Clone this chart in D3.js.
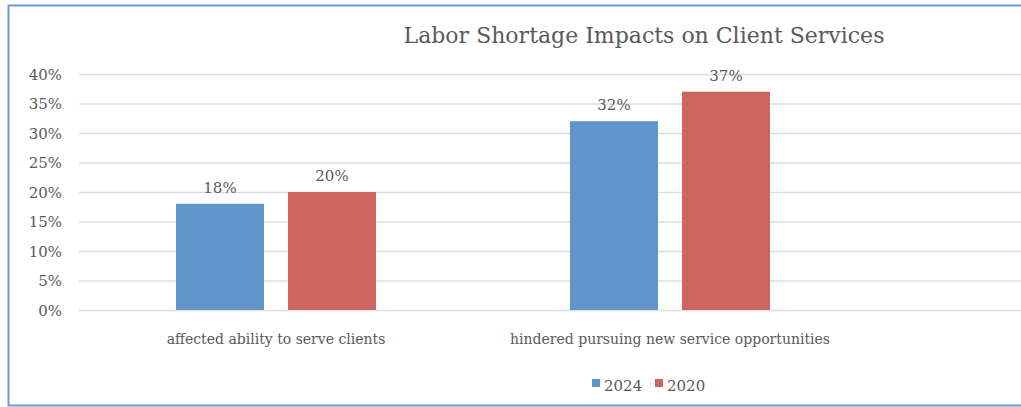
<!DOCTYPE html>
<html>
<head>
<meta charset="utf-8">
<script src="https://cdn.jsdelivr.net/npm/d3@7"></script>
<style>
  html, body { margin: 0; padding: 0; background: #fff; }
  svg { display: block; }
  text { font-family: "DejaVu Serif", "Liberation Serif", serif; fill: #595959; }
</style>
</head>
<body>
<svg id="chart" width="1021" height="407"></svg>
<script>
// Chart data
const title = "Labor Shortage Impacts on Client Services";
const categories = ["affected ability to serve clients", "hindered pursuing new service opportunities"];
const seriesNames = ["2024", "2020"];
const values2024 = [18, 32];
const values2020 = [20, 37];
const yTicks = [0, 5, 10, 15, 20, 25, 30, 35, 40];
const colors = ["#6095c9", "#cc655e"];

const svg = d3.select("#chart");
const W = 1021, H = 407;

// Outer frame
svg.append("rect")
  .attr("x", 8.5).attr("y", 5.5)
  .attr("width", W + 20).attr("height", 400)
  .attr("fill", "#fff")
  .attr("stroke", "#6b9bd2").attr("stroke-width", 2);

const plot = { left: 79, top: 74, bottom: 310 };
const step = 394;

const y = d3.scaleLinear().domain([0, 40]).range([plot.bottom, plot.top]);

const x0 = d3.scaleBand()
  .domain(categories)
  .range([plot.left, plot.left + step * categories.length])
  .paddingInner(0.4924)
  .paddingOuter(0.2462);

const x1 = d3.scaleBand()
  .domain(seriesNames)
  .range([0, x0.bandwidth()])
  .paddingInner(0.2143)
  .paddingOuter(0);

// Horizontal gridlines and percentage ticks
const yAxis = d3.axisLeft(y)
  .tickValues(yTicks)
  .tickSize(-(W - plot.left + 10))
  .tickPadding(17)
  .tickFormat(d => d + "%");

const gy = svg.append("g")
  .attr("transform", `translate(${plot.left},0)`)
  .call(yAxis);
gy.select(".domain").remove();
gy.selectAll(".tick line").attr("stroke", "#dedede").attr("stroke-width", 1.5);
gy.selectAll(".tick text")
  .attr("font-size", 15)
  .attr("font-family", "DejaVu Serif")
  .attr("fill", "#595959")
  .attr("dy", "0.36em");

// Bars
const rows = categories.map((c, i) => ({
  category: c,
  values: [
    { series: seriesNames[0], value: values2024[i] },
    { series: seriesNames[1], value: values2020[i] }
  ]
}));

const groups = svg.append("g").selectAll("g")
  .data(rows)
  .join("g")
  .attr("transform", d => `translate(${x0(d.category)},0)`);

groups.selectAll("rect")
  .data(d => d.values)
  .join("rect")
  .attr("x", d => x1(d.series))
  .attr("y", d => y(d.value))
  .attr("width", x1.bandwidth())
  .attr("height", d => y(0) - y(d.value))
  .attr("fill", (d, i) => colors[i]);

// Value labels
groups.selectAll("text.val")
  .data(d => d.values)
  .join("text")
  .attr("class", "val")
  .attr("x", d => x1(d.series) + x1.bandwidth() / 2)
  .attr("y", d => y(d.value) - 11)
  .attr("text-anchor", "middle")
  .attr("font-size", 15)
  .text(d => d.value + "%");

// Category labels
const xAxis = d3.axisBottom(x0).tickSize(0).tickPadding(0);
const gx = svg.append("g")
  .attr("transform", `translate(0,${plot.bottom})`)
  .call(xAxis);
gx.select(".domain").remove();
gx.selectAll(".tick text")
  .attr("font-size", 14)
  .attr("font-family", "DejaVu Serif")
  .attr("fill", "#595959")
  .attr("dy", 0)
  .attr("y", 34);

// Title
svg.append("text")
  .attr("x", 644).attr("y", 43)
  .attr("text-anchor", "middle")
  .attr("font-size", 22)
  .text(title);

// Legend
const legend = svg.append("g").attr("transform", "translate(592,379)");
const items = legend.selectAll("g")
  .data(seriesNames)
  .join("g")
  .attr("transform", (d, i) => `translate(${i * 63},0)`);
items.append("rect")
  .attr("width", 8).attr("height", 8)
  .attr("fill", (d, i) => colors[i]);
items.append("text")
  .attr("x", 12).attr("y", 12)
  .attr("font-size", 15)
  .text(d => d);
</script>
</body>
</html>
